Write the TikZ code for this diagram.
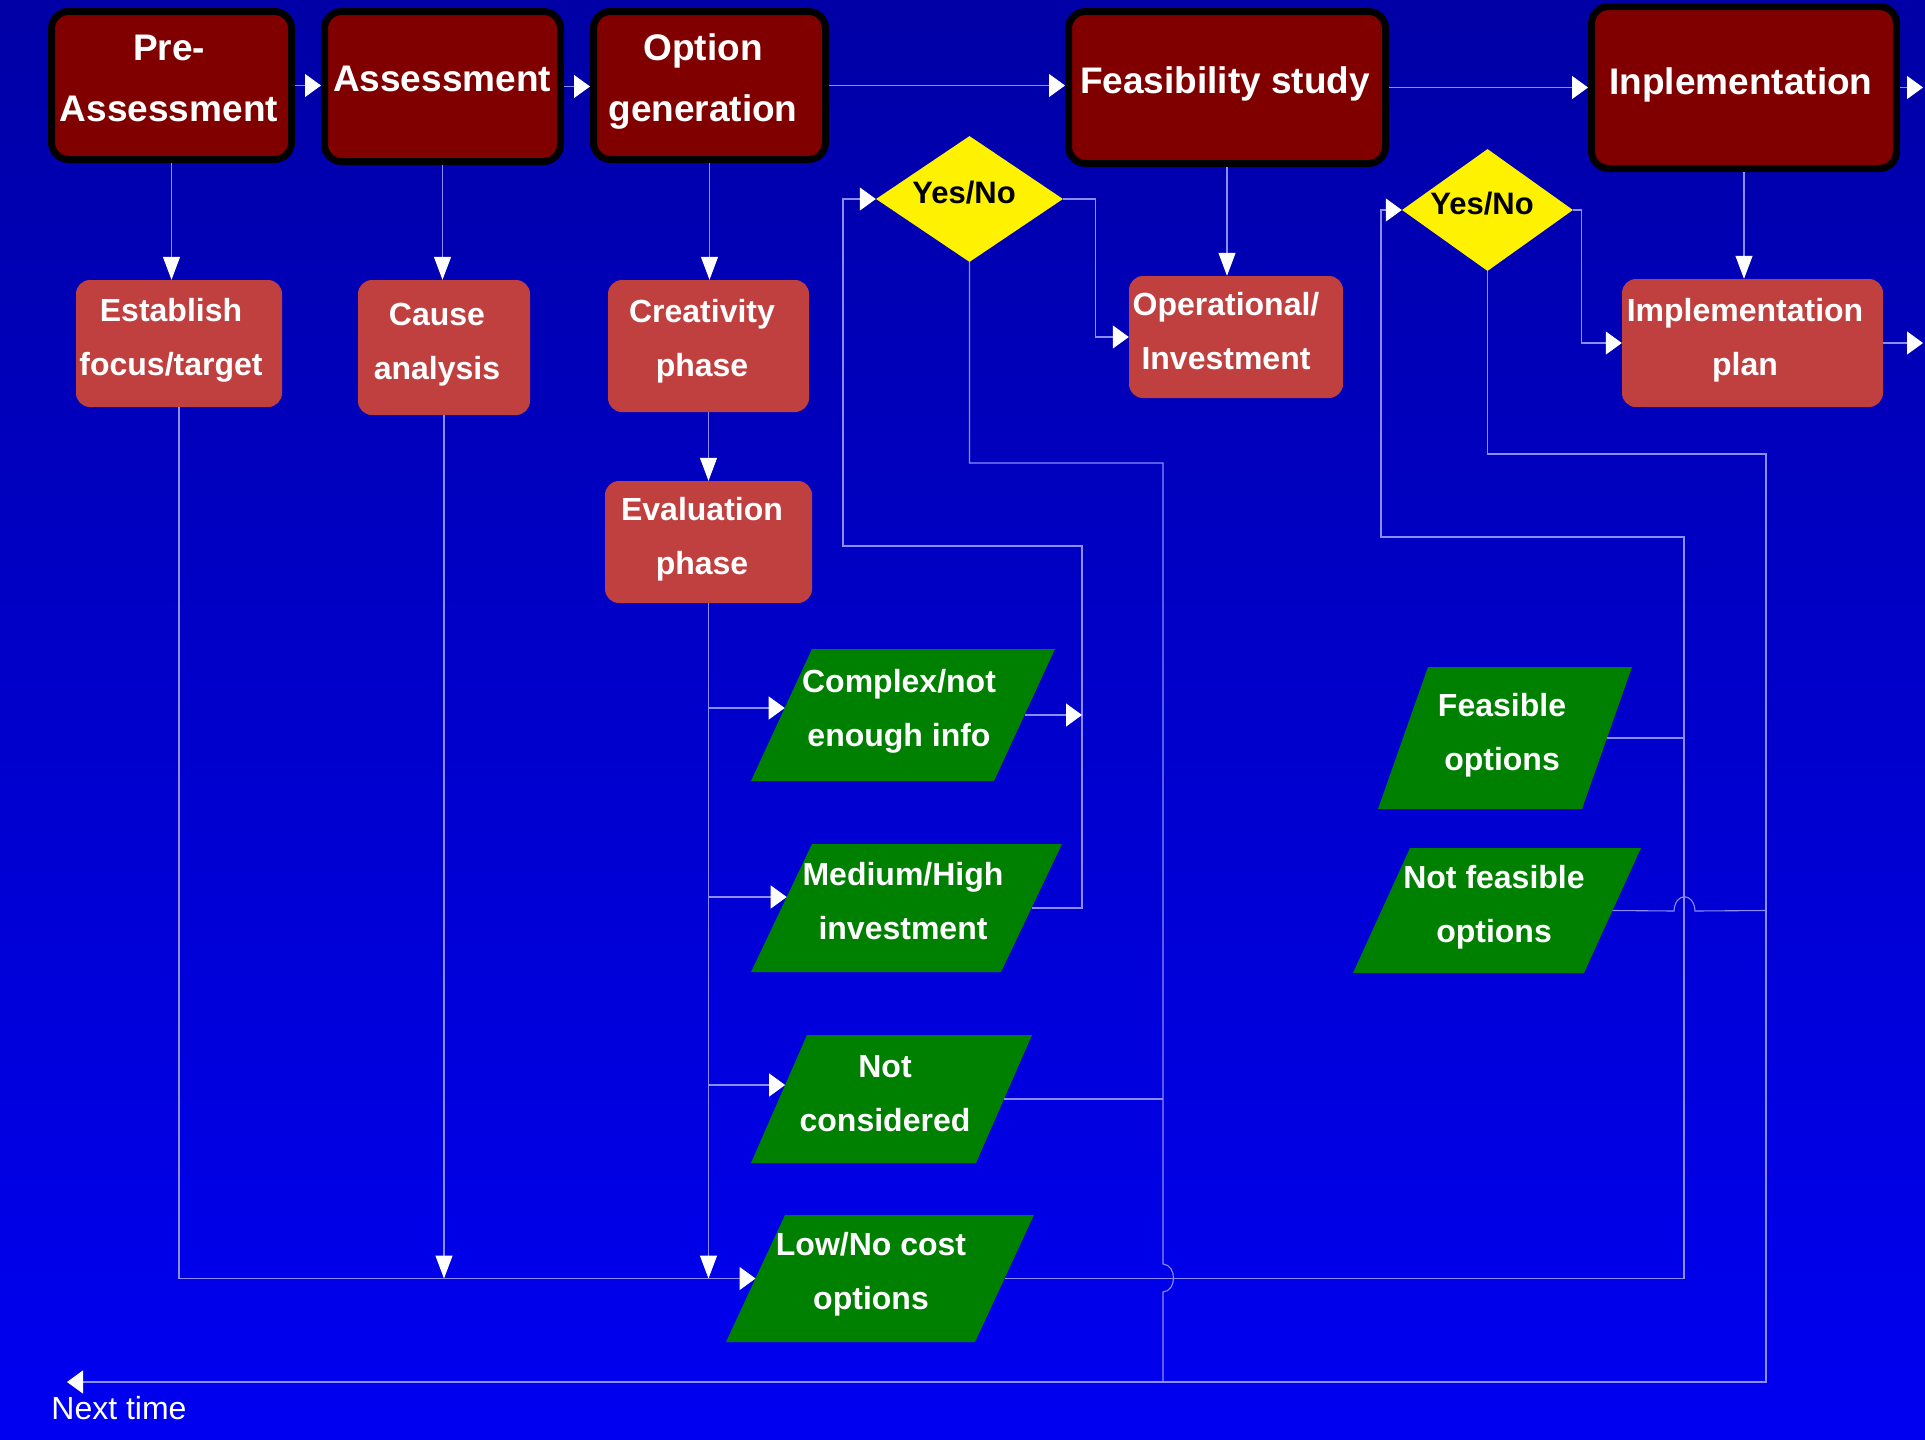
\documentclass[tikz,border=0pt]{standalone}
\usepackage{fontspec}
\setmainfont{Liberation Sans}
\usetikzlibrary{arrows.meta,shapes.geometric}

\definecolor{bgtop}{RGB}{0,0,128}
\definecolor{bgbot}{RGB}{0,0,255}
\definecolor{phasered}{RGB}{128,0,0}
\definecolor{stepred}{RGB}{192,64,64}
\definecolor{outgreen}{RGB}{0,128,0}
\definecolor{wirecol}{RGB}{140,140,255}

\pgfdeclareverticalshading{bgshade}{100bp}{color(0bp)=(bgbot); color(16bp)=(bgbot); color(100bp)=(bgtop)}

% strut that gives every text line the same height and depth
\newcommand\lstrut{\rule[-0.21em]{0pt}{0.93em}}

% outcome parallelogram: name, x, y, body width, height, slant offset
\newcommand\outshape[6]{%
  \node[outrect, minimum width=#4pt, minimum height=#5pt] (#1) at (#2,#3) {};
  \fill[outgreen] ([xshift=-#6pt/2]#1.south west) -- ([xshift=-#6pt/2]#1.south east)
     -- ([xshift=#6pt/2]#1.north east) -- ([xshift=#6pt/2]#1.north west) -- cycle;
}

\tikzset{
  phasebox/.style={draw=black, line width=7pt, fill=phasered, rounded corners=17pt, inner sep=0pt},
  stepbox/.style={fill=stepred, rounded corners=14pt, inner sep=0pt},
  decide/.style={diamond, fill=yellow, inner sep=0pt},
  outrect/.style={rectangle, inner sep=0pt, outer sep=0pt},
  toplab/.style={text=white, font=\fontsize{37}{61}\selectfont\bfseries, align=center, inner sep=0pt},
  lab/.style={text=white, font=\fontsize{32}{54}\selectfont\bfseries, align=center, inner sep=0pt},
  declab/.style={text=black, font=\fontsize{31}{40}\selectfont\bfseries, inner sep=0pt},
  wire/.style={draw=wirecol, line width=1.1pt},
  harr/.style={-{Triangle[length=16pt,width=23pt,color=white]}},
  varr/.style={-{Triangle[length=23pt,width=17pt,color=white]}},
}

\begin{document}
\begin{tikzpicture}[x=1pt,y=-1pt]
% background
\shade[shading=bgshade] (0,0) rectangle (1925,1440);
\useasboundingbox (0,0) rectangle (1925,1440);

% main phases
\node[phasebox, minimum width=240pt, minimum height=148pt] (PA) at (171.5,85.5) {};
\node[phasebox, minimum width=236pt, minimum height=150pt] (AS) at (442.5,86.5) {};
\node[phasebox, minimum width=232pt, minimum height=148pt] (OG) at (709.5,85.5) {};
\node[phasebox, minimum width=317pt, minimum height=152pt] (FS) at (1227,87.5) {};
\node[phasebox, minimum width=305pt, minimum height=162pt] (IM) at (1744,87.5) {};

\node[toplab] (PA-t) at (169,82) {\lstrut Pre-\\\lstrut Assessment};
\node[toplab] (AS-t) at (442,82) {\lstrut Assessment};
\node[toplab] (OG-t) at (703,82) {\lstrut Option\\\lstrut generation};
\node[toplab] (FS-t) at (1225,84) {\lstrut Feasibility study};
\node[toplab] (IM-t) at (1741,85) {\lstrut Inplementation};

% steps
\node[stepbox, minimum width=206pt, minimum height=127pt] (EF) at (179,343.5) {};
\node[stepbox, minimum width=172pt, minimum height=135pt] (CA) at (444,347.5) {};
\node[stepbox, minimum width=201pt, minimum height=132pt] (CP) at (708.5,346) {};
\node[stepbox, minimum width=207pt, minimum height=122pt] (EP) at (708.5,542) {};
\node[stepbox, minimum width=214pt, minimum height=122pt] (OI) at (1236,337) {};
\node[stepbox, minimum width=261pt, minimum height=128pt] (IP) at (1752.5,343) {};

\node[lab] (EF-t) at (171,340) {\lstrut Establish\\\lstrut focus/target};
\node[lab] (CA-t) at (437,344) {\lstrut Cause\\\lstrut analysis};
\node[lab] (CP-t) at (702,341) {\lstrut Creativity\\\lstrut phase};
\node[lab] (EP-t) at (702,539) {\lstrut Evaluation\\\lstrut phase};
\node[lab] (OI-t) at (1226,334) {\lstrut Operational/\\\lstrut Investment};
\node[lab] (IP-t) at (1745,340) {\lstrut Implementation\\\lstrut plan};

% decisions
\node[decide, minimum width=187pt, minimum height=126pt] (D1) at (969.5,199) {};
\node[decide, minimum width=171pt, minimum height=122pt] (D2) at (1487.5,210) {};
\node[declab] (D1-t) at (964,196) {\lstrut Yes/No};
\node[declab] (D2-t) at (1482,207) {\lstrut Yes/No};

% outcomes
\outshape{CX}{903}{715}{243}{132}{61}
\outshape{MH}{906.5}{908}{250}{128}{61}
\outshape{NC}{891.5}{1099}{225}{128}{56}
\outshape{LN}{880}{1278.5}{249}{127}{59}
\outshape{FO}{1505}{738}{204}{142}{50}
\outshape{NF}{1497}{910.5}{231}{125}{57}

\node[lab] (CX-t) at (899,711) {\lstrut Complex/not\\\lstrut enough info};
\node[lab] (MH-t) at (903,904) {\lstrut Medium/High\\\lstrut investment};
\node[lab] (NC-t) at (885,1096) {\lstrut Not\\\lstrut considered};
\node[lab] (LN-t) at (871,1274) {\lstrut Low/No cost\\\lstrut options};
\node[lab] (FO-t) at (1502,735) {\lstrut Feasible\\\lstrut options};
\node[lab] (NF-t) at (1494,907) {\lstrut Not feasible\\\lstrut options};

\node[text=white, font=\fontsize{32}{40}\selectfont, inner sep=0pt] (NX) at (119,1411) {\lstrut Next time};

% entry points on the slanted sides
\coordinate (CX-in) at ([xshift=3.2pt,yshift=7pt]CX.west);
\coordinate (MH-in) at ([xshift=5.2pt,yshift=11pt]MH.west);
\coordinate (NC-in) at ([xshift=6.1pt,yshift=14pt]NC.west);
\coordinate (FO-in) at ([xshift=2.5pt,yshift=7pt]FO.west);

% routing points
\coordinate (edge1) at (1923,87);
\coordinate (edge2) at (1923,343);
\coordinate (k1) at (1082,546);
\coordinate (k2) at (843,546);
\coordinate (k3) at (1163,463);
\coordinate (h1) at (1163,1264);
\coordinate (h2) at (1163,1292);
\coordinate (k4) at (1163,1382);
\coordinate (k5) at (1684,537);
\coordinate (k6) at (1381,537);
\coordinate (k7) at (1766,454);
\coordinate (h3) at (1674,911);
\coordinate (h4) at (1695,911);
\coordinate (nt) at (67,1382);

% top row
\draw[wire,harr] (PA.east) -- (PA.east -| AS.west);
\draw[wire,harr] (AS.east) -- (AS.east -| OG.west);
\draw[wire,harr] (OG.east) -- (OG.east -| FS.west);
\draw[wire,harr] (FS.east) -- (FS.east -| IM.west);
\draw[wire,harr] (IM.east) -- (IM.east -| edge1);

% phases to steps
\draw[wire,varr] (PA.south) -- (PA.south |- EF.north);
\draw[wire,varr] (AS.south) -- (AS.south |- CA.north);
\draw[wire,varr] (OG.south) -- (OG.south |- CP.north);
\draw[wire,varr] (FS.south) -- (FS.south |- OI.north);
\draw[wire,varr] (IM.south) -- (IM.south |- IP.north);
\draw[wire,varr] (CP.south) -- (CP.south |- EP.north);
\draw[wire,harr] (IP.east) -- (IP.east -| edge2);

% evaluation branches
\draw[wire,varr] (EP.south) -- (EP.south |- LN.west);
\draw[wire,harr] (EP.south |- CX-in) -- (CX-in);
\draw[wire,harr] (EP.south |- MH-in) -- (MH-in);
\draw[wire,harr] (EP.south |- NC-in) -- (NC-in);
\draw[wire,harr] (EF.south) |- (LN.west);
\draw[wire,varr] (CA.south) -- (CA.south |- LN.west);

% first decision loop
\draw[wire,harr] (MH.east) -| (k1) -- (k2) |- (D1.west);
\draw[wire,harr] (CX.east) -- (CX.east -| k1);
\draw[wire,harr] (D1.east) -- ++(32,0) |- (OI.west);
\draw[wire] (D1.south) |- (k3) -- (h1) .. controls (1177,1265) and (1177,1291) .. (h2) -- (k4);
\draw[wire] (NC.east) -- (NC.east -| k3);

% second decision loop
\draw[wire,harr] (LN.east) -| (k5) -- (k6) |- (D2.west);
\draw[wire] (FO.east) -- (FO.east -| k5);
\draw[wire] (NF.east) -- (h3) .. controls (1675,892) and (1694,892) .. (h4) -- (NF.east -| k7);
\draw[wire,harr] (D2.east) -- ++(8,0) |- (IP.west);
\draw[wire,harr] (D2.south) |- (k7) |- (nt);
\end{tikzpicture}
\end{document}
